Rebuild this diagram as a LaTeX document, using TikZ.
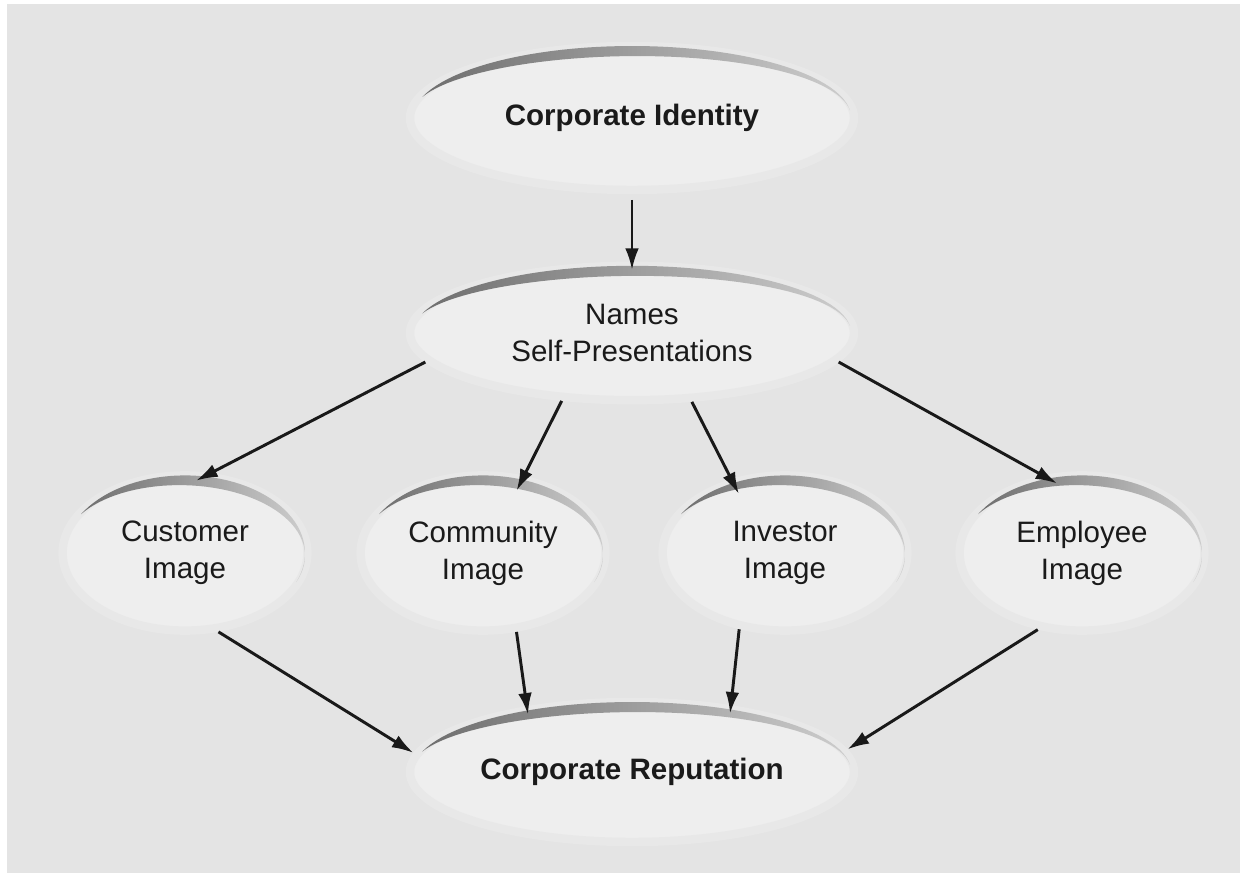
\documentclass[tikz,border=0pt]{standalone}
\usepackage{fontspec}
\setmainfont{Liberation Sans}
\usepackage{xcolor}
\usepackage{tikz}
\usetikzlibrary{positioning,shapes.geometric,arrows.meta}

\definecolor{bgcol}{HTML}{E4E4E4}
\definecolor{ellfill}{HTML}{EEEEEE}
\definecolor{ellhalo}{HTML}{E8E8E8}
\definecolor{swdark}{HTML}{6E6E6E}
\definecolor{swlight}{HTML}{CDCDCD}
\definecolor{txt}{HTML}{1A1A1A}

% brush stroke along the top of an ellipse node
% #1 node, #2 x radius, #3 y radius, #4 start angle, #5 end angle
\newcommand{\swoosh}[5]{%
  \shade[shift={(#1.center)}, left color=swdark, right color=swlight]
    plot[domain=#4:#5, samples=50] ({#2*cos(\x)}, {#3*sin(\x)})
    -- plot[domain=#5:#4, samples=50] ({#2*cos(\x)}, {#3*sin(\x)-0.17*sin((\x-(#5))/((#4)-(#5))*180)*(0.45+0.55*(\x-(#5))/((#4)-(#5)))})
    -- cycle;
}

\begin{document}
\begin{tikzpicture}[
  font=\fontsize{10.5}{13.2}\selectfont,
  bigell/.style={ellipse, fill=ellfill, draw=ellhalo, line width=3pt, inner sep=0pt, align=center, text=txt, minimum width=5.55cm, minimum height=1.75cm},
  smallell/.style={ellipse, fill=ellfill, draw=ellhalo, line width=3pt, inner sep=0pt, align=center, text=txt, minimum width=3.06cm, minimum height=1.94cm},
  arr/.style={-{Latex[length=2.7mm,width=1.7mm]}, line width=1.05pt, draw=black!90}
]
  \useasboundingbox (0,0) rectangle (15.5,10.9375);
  \fill[white] (0,0) rectangle (15.5,10.9375);
  \fill[bgcol] (0.0875,0.025) rectangle (15.5,10.8875);

  % Top and middle
  \node[bigell, minimum height=1.8cm, font=\fontsize{10.5}{13.2}\selectfont\bfseries] (ident) at (7.9,9.4625) {Corporate Identity};
  \node[bigell, minimum height=1.68cm] (names) at (7.9,6.775) {Names\\Self-Presentations};

  % Images
  \node[smallell] (cust) at (2.3125,4.025) {Customer\\Image};
  \node[smallell] (comm) at (6.0375,4.025) {Community\\Image};
  \node[smallell] (inv) at (9.8125,4.025) {Investor\\Image};
  \node[smallell] (empl) at (13.525,4.025) {Employee\\Image};

  % Bottom
  \node[bigell, font=\fontsize{10.5}{13.2}\selectfont\bfseries] (rep) at (7.9,1.2875) {Corporate Reputation};

  \swoosh{ident}{2.74}{0.9}{163}{6}
  \swoosh{names}{2.74}{0.84}{163}{6}
  \swoosh{rep}{2.74}{0.875}{163}{6}
  \swoosh{cust}{1.5}{0.97}{150}{-22}
  \swoosh{comm}{1.5}{0.97}{150}{-22}
  \swoosh{inv}{1.5}{0.97}{150}{-22}
  \swoosh{empl}{1.5}{0.97}{150}{-22}

  \draw[arr, shorten <=2pt, shorten >=-3pt] (ident.south) -- (names.north);

  \draw[arr, shorten >=-6pt] (names.188) -- (cust.72);
  \draw[arr, shorten >=-6pt] (names.224) -- (comm.62);
  \draw[arr, shorten >=-6pt] (names.311) -- (inv.126);
  \draw[arr, shorten >=-6pt] (names.352) -- (empl.117);

  \draw[arr] (cust.293) -- (rep.175);
  \draw[arr, shorten >=-3pt] (comm.293) -- (rep.148);
  \draw[arr, shorten >=-3pt] (inv.239) -- (rep.34);
  \draw[arr] (empl.240) -- (rep.6);
\end{tikzpicture}
\end{document}
